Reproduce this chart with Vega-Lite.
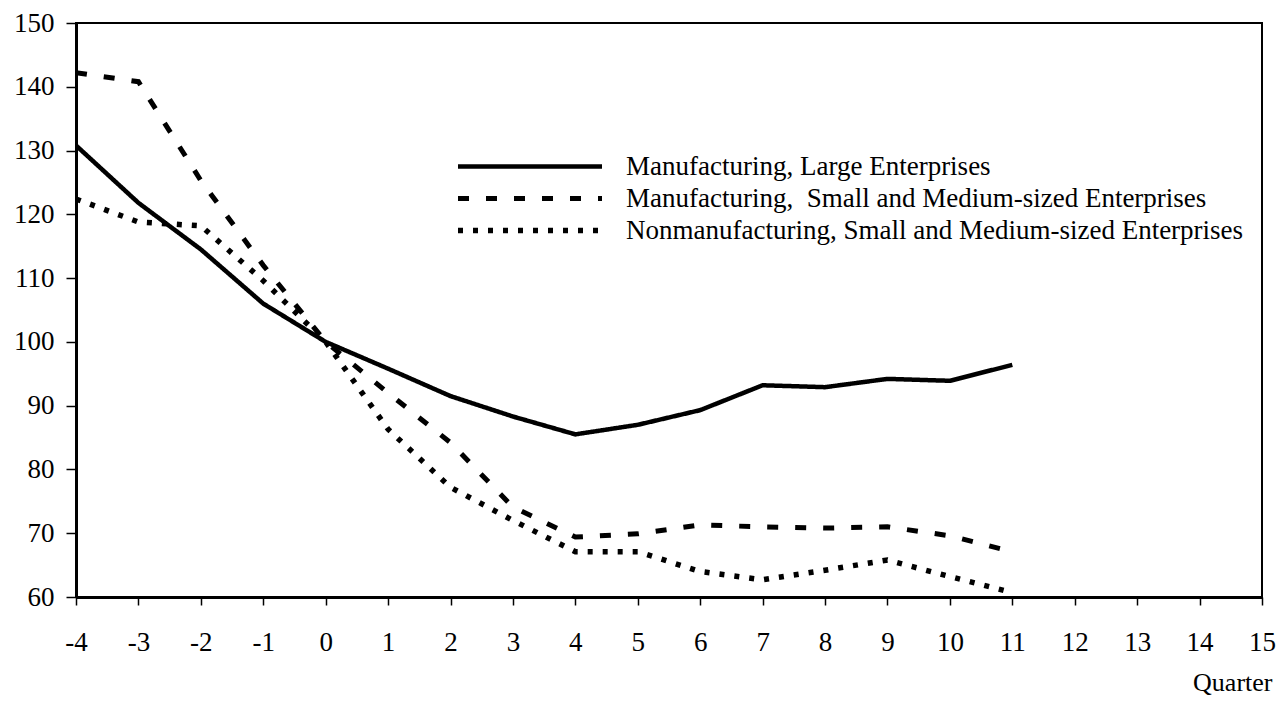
{
  "$schema": "https://vega.github.io/schema/vega-lite/v6.json",
  "width": 1186,
  "height": 574,
  "autosize": {"type": "none"},
  "padding": {"left": 76, "top": 23, "right": 16, "bottom": 105},
  "background": "white",
  "config": {
    "view": {"stroke": "black", "strokeWidth": 2},
    "font": "Liberation Serif",
    "axis": {"grid": false, "domainColor": "black", "domainWidth": 3, "tickColor": "black", "tickWidth": 1.5, "labelColor": "black", "labelFont": "Liberation Serif", "labelFontSize": 27, "titleFont": "Liberation Serif"}
  },
  "data": {
    "values": [
      {"series": "Manufacturing, Large Enterprises", "q": -4, "v": 130.8},
      {"series": "Manufacturing, Large Enterprises", "q": -3, "v": 121.8},
      {"series": "Manufacturing, Large Enterprises", "q": -2, "v": 114.5},
      {"series": "Manufacturing, Large Enterprises", "q": -1, "v": 106.0},
      {"series": "Manufacturing, Large Enterprises", "q": 0, "v": 100.0},
      {"series": "Manufacturing, Large Enterprises", "q": 1, "v": 95.8},
      {"series": "Manufacturing, Large Enterprises", "q": 2, "v": 91.5},
      {"series": "Manufacturing, Large Enterprises", "q": 3, "v": 88.3},
      {"series": "Manufacturing, Large Enterprises", "q": 4, "v": 85.5},
      {"series": "Manufacturing, Large Enterprises", "q": 5, "v": 87.0},
      {"series": "Manufacturing, Large Enterprises", "q": 6, "v": 89.3},
      {"series": "Manufacturing, Large Enterprises", "q": 7, "v": 93.2},
      {"series": "Manufacturing, Large Enterprises", "q": 8, "v": 92.9},
      {"series": "Manufacturing, Large Enterprises", "q": 9, "v": 94.2},
      {"series": "Manufacturing, Large Enterprises", "q": 10, "v": 93.9},
      {"series": "Manufacturing, Large Enterprises", "q": 11, "v": 96.4},
      {"series": "Manufacturing,\u00a0 Small and Medium-sized Enterprises", "q": -4, "v": 142.2},
      {"series": "Manufacturing,\u00a0 Small and Medium-sized Enterprises", "q": -3, "v": 140.8},
      {"series": "Manufacturing,\u00a0 Small and Medium-sized Enterprises", "q": -2, "v": 125.3},
      {"series": "Manufacturing,\u00a0 Small and Medium-sized Enterprises", "q": -1, "v": 112.0},
      {"series": "Manufacturing,\u00a0 Small and Medium-sized Enterprises", "q": 0, "v": 100.0},
      {"series": "Manufacturing,\u00a0 Small and Medium-sized Enterprises", "q": 1, "v": 92.0},
      {"series": "Manufacturing,\u00a0 Small and Medium-sized Enterprises", "q": 2, "v": 84.2},
      {"series": "Manufacturing,\u00a0 Small and Medium-sized Enterprises", "q": 3, "v": 74.1},
      {"series": "Manufacturing,\u00a0 Small and Medium-sized Enterprises", "q": 4, "v": 69.4},
      {"series": "Manufacturing,\u00a0 Small and Medium-sized Enterprises", "q": 5, "v": 69.9},
      {"series": "Manufacturing,\u00a0 Small and Medium-sized Enterprises", "q": 6, "v": 71.3},
      {"series": "Manufacturing,\u00a0 Small and Medium-sized Enterprises", "q": 7, "v": 71.0},
      {"series": "Manufacturing,\u00a0 Small and Medium-sized Enterprises", "q": 8, "v": 70.8},
      {"series": "Manufacturing,\u00a0 Small and Medium-sized Enterprises", "q": 9, "v": 71.0},
      {"series": "Manufacturing,\u00a0 Small and Medium-sized Enterprises", "q": 10, "v": 69.6},
      {"series": "Manufacturing,\u00a0 Small and Medium-sized Enterprises", "q": 11, "v": 67.1},
      {"series": "Nonmanufacturing, Small and Medium-sized Enterprises", "q": -4, "v": 122.4},
      {"series": "Nonmanufacturing, Small and Medium-sized Enterprises", "q": -3, "v": 118.8},
      {"series": "Nonmanufacturing, Small and Medium-sized Enterprises", "q": -2, "v": 118.2},
      {"series": "Nonmanufacturing, Small and Medium-sized Enterprises", "q": -1, "v": 109.6},
      {"series": "Nonmanufacturing, Small and Medium-sized Enterprises", "q": 0, "v": 100.0},
      {"series": "Nonmanufacturing, Small and Medium-sized Enterprises", "q": 1, "v": 86.3},
      {"series": "Nonmanufacturing, Small and Medium-sized Enterprises", "q": 2, "v": 77.2},
      {"series": "Nonmanufacturing, Small and Medium-sized Enterprises", "q": 3, "v": 72.0},
      {"series": "Nonmanufacturing, Small and Medium-sized Enterprises", "q": 4, "v": 67.1},
      {"series": "Nonmanufacturing, Small and Medium-sized Enterprises", "q": 5, "v": 67.1},
      {"series": "Nonmanufacturing, Small and Medium-sized Enterprises", "q": 6, "v": 64.0},
      {"series": "Nonmanufacturing, Small and Medium-sized Enterprises", "q": 7, "v": 62.7},
      {"series": "Nonmanufacturing, Small and Medium-sized Enterprises", "q": 8, "v": 64.2},
      {"series": "Nonmanufacturing, Small and Medium-sized Enterprises", "q": 9, "v": 65.8},
      {"series": "Nonmanufacturing, Small and Medium-sized Enterprises", "q": 10, "v": 63.2},
      {"series": "Nonmanufacturing, Small and Medium-sized Enterprises", "q": 11, "v": 60.7}
    ]
  },
  "mark": {"type": "line", "color": "black", "clip": true},
  "encoding": {
    "x": {
      "field": "q", "type": "quantitative",
      "scale": {"domain": [-4, 15], "nice": false, "zero": false},
      "axis": {"values": [-4,-3,-2,-1,0,1,2,3,4,5,6,7,8,9,10,11,12,13,14,15], "labelExpr": "datum.value < 0 ? '-' + abs(datum.value) : '' + datum.value", "tickSize": 8, "labelPadding": 24, "labelFlush": false, "labelOverlap": false,
        "title": "Quarter", "titleFontSize": 26, "titleFontWeight": "normal", "titleColor": "black", "titleAnchor": "end", "titleAlign": "right", "titleBaseline": "alphabetic", "titleX": 1196, "titleY": 93}
    },
    "y": {
      "field": "v", "type": "quantitative",
      "scale": {"domain": [60, 150], "nice": false, "zero": false},
      "axis": {"values": [60,70,80,90,100,110,120,130,140,150], "tickSize": 10, "labelPadding": 12, "title": null, "labelFlush": false, "labelOverlap": false}
    },
    "strokeDash": {
      "field": "series", "type": "nominal",
      "scale": {
        "domain": ["Manufacturing, Large Enterprises", "Manufacturing,\u00a0 Small and Medium-sized Enterprises", "Nonmanufacturing, Small and Medium-sized Enterprises"],
        "range": [[1, 0], [11, 17], [5, 10]]
      },
      "legend": {
        "title": null, "orient": "none", "legendX": 379, "legendY": 130, "padding": 0,
        "symbolType": "stroke", "symbolSize": 20736, "symbolStrokeColor": "black", "clipHeight": 27,
        "labelFont": "Liberation Serif", "labelFontSize": 27, "labelColor": "black", "labelOffset": 21, "rowPadding": 4, "labelLimit": 800
      }
    },
    "strokeWidth": {
      "field": "series", "type": "nominal",
      "scale": {
        "domain": ["Manufacturing, Large Enterprises", "Manufacturing,\u00a0 Small and Medium-sized Enterprises", "Nonmanufacturing, Small and Medium-sized Enterprises"],
        "range": [4.5, 5.5, 2.2]
      }
    }
  }
}
